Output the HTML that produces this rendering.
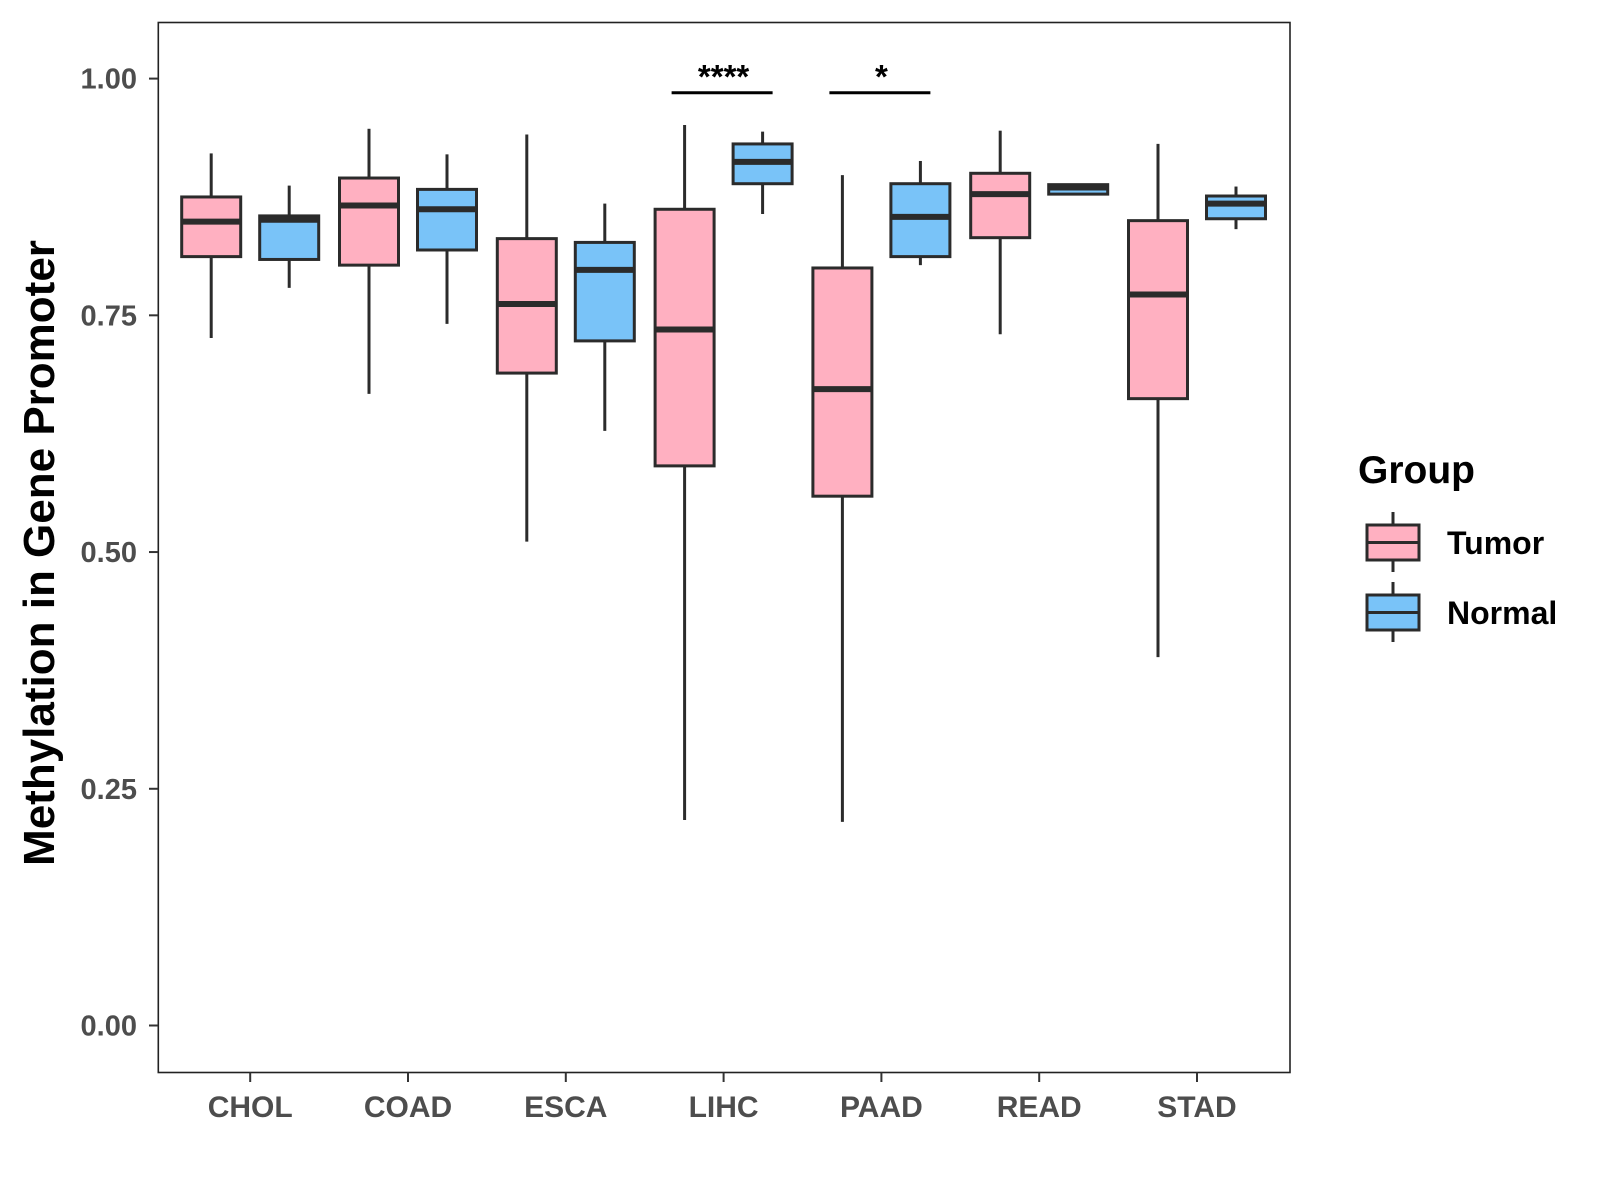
<!DOCTYPE html>
<html><head><meta charset="utf-8"><style>
html,body{margin:0;padding:0;background:#fff;}
svg{display:block;font-family:"Liberation Sans",sans-serif;}
</style></head><body>
<svg id="chart" width="1600" height="1200" viewBox="0 0 1600 1200" xmlns="http://www.w3.org/2000/svg">
<rect x="0" y="0" width="1600" height="1200" fill="#fff"/>
<rect x="158.3" y="22.5" width="1131.7" height="1050" fill="none" stroke="#222" stroke-width="1.6"/>
<g id="marks"></g>
<g id="axes"></g>
<text transform="translate(54,553) rotate(-90)" text-anchor="middle" font-size="44" font-weight="bold" fill="#000">Methylation in Gene Promoter</text>
<g>
<text x="1358" y="483" font-size="39" font-weight="bold" fill="#000">Group</text>
<g>
<line x1="1393" y1="512" x2="1393" y2="572" stroke="#2b2b2b" stroke-width="3"/>
<rect x="1367" y="525" width="52" height="35" fill="#FFB0C1" stroke="#2b2b2b" stroke-width="3"/>
<line x1="1367" y1="542.5" x2="1419" y2="542.5" stroke="#2b2b2b" stroke-width="3"/>
<text x="1447" y="554" font-size="32" font-weight="bold" fill="#000">Tumor</text>
</g>
<g>
<line x1="1393" y1="582" x2="1393" y2="642" stroke="#2b2b2b" stroke-width="3"/>
<rect x="1367" y="595" width="52" height="35" fill="#79C3F8" stroke="#2b2b2b" stroke-width="3"/>
<line x1="1367" y1="612.5" x2="1419" y2="612.5" stroke="#2b2b2b" stroke-width="3"/>
<text x="1447" y="624" font-size="32" font-weight="bold" fill="#000">Normal</text>
</g>
</g>
</svg>
<script>
const categories = ["CHOL","COAD","ESCA","LIHC","PAAD","READ","STAD"];
// [low, q1, median, q3, high]
const tumorStats = [
 [0.726,0.812,0.849,0.875,0.921],
 [0.667,0.803,0.866,0.895,0.947],
 [0.511,0.689,0.762,0.831,0.941],
 [0.217,0.591,0.735,0.862,0.951],
 [0.215,0.559,0.672,0.800,0.898],
 [0.730,0.832,0.878,0.900,0.945],
 [0.389,0.662,0.772,0.850,0.931]
];
const normalStats = [
 [0.779,0.809,0.851,0.855,0.887],
 [0.741,0.819,0.862,0.883,0.920],
 [0.628,0.723,0.798,0.827,0.868],
 [0.857,0.889,0.912,0.931,0.944],
 [0.803,0.812,0.854,0.889,0.913],
 [0.878,0.878,0.885,0.888,0.889],
 [0.841,0.852,0.868,0.876,0.886]
];
const yTicks = [0,0.25,0.5,0.75,1.0];
const yTickLabels = ["0.00","0.25","0.50","0.75","1.00"];
const sigCategories = ["LIHC","PAAD"];
const sigLabels = ["****","*"];
const sigLevel = 0.985;

const NS="http://www.w3.org/2000/svg";
function yS(v){return 1025.5 - v*946.9;}
function xS(i){return 250.2 + i*157.8;}
function mk(tag,attrs,parent){const e=document.createElementNS(NS,tag);for(const k in attrs)e.setAttribute(k,attrs[k]);parent.appendChild(e);return e;}
const marks=document.getElementById('marks');
const axes=document.getElementById('axes');
const BW=59, OFF=39;
function drawBox(s,cx,fill,name){
  const g=mk('g',{},marks);
  
  
  mk('line',{x1:cx,x2:cx,y1:yS(s[4]),y2:yS(s[3]),stroke:'#2b2b2b','stroke-width':3},g);
  mk('line',{x1:cx,x2:cx,y1:yS(s[1]),y2:yS(s[0]),stroke:'#2b2b2b','stroke-width':3},g);
  mk('rect',{x:cx-BW/2,y:yS(s[3]),width:BW,height:Math.max(0.5,yS(s[1])-yS(s[3])),fill:fill,stroke:'#2b2b2b','stroke-width':3},g);
  mk('line',{x1:cx-BW/2,x2:cx+BW/2,y1:yS(s[2]),y2:yS(s[2]),stroke:'#2b2b2b','stroke-width':6},g);
}
categories.forEach((c,i)=>{
  drawBox(tumorStats[i],xS(i)-OFF,'#FFB0C1','box-tumor-'+c.toLowerCase());
  drawBox(normalStats[i],xS(i)+OFF,'#79C3F8','box-normal-'+c.toLowerCase());
  const t=mk('line',{x1:xS(i),x2:xS(i),y1:1072.5,y2:1082,stroke:'#333','stroke-width':2},axes);
  
  
  const l=mk('text',{x:xS(i),y:1117,'text-anchor':'middle','font-size':30,'font-weight':'bold',fill:'#4d4d4d'},axes);
  l.textContent=c;
  
  
});
yTicks.forEach((v,i)=>{
  const t=mk('line',{x1:149,x2:158.3,y1:yS(v),y2:yS(v),stroke:'#333','stroke-width':2},axes);
  
  
  const l=mk('text',{x:137,y:yS(v)+10,'text-anchor':'end','font-size':29,'font-weight':'bold',fill:'#4d4d4d'},axes);
  l.textContent=yTickLabels[i];
  
  
});
sigCategories.forEach((c,k)=>{
  const i=categories.indexOf(c);
  const g=mk('g',{},marks);
  
  
  mk('line',{x1:xS(i)-OFF-13,x2:xS(i)+OFF+10,y1:yS(sigLevel),y2:yS(sigLevel),stroke:'#000','stroke-width':3},g);
  const t=mk('text',{x:xS(i),y:yS(sigLevel)-5,'text-anchor':'middle','font-size':33,'font-weight':'bold',fill:'#000'},g);
  t.textContent=sigLabels[k];
});
</script>
</body></html>
